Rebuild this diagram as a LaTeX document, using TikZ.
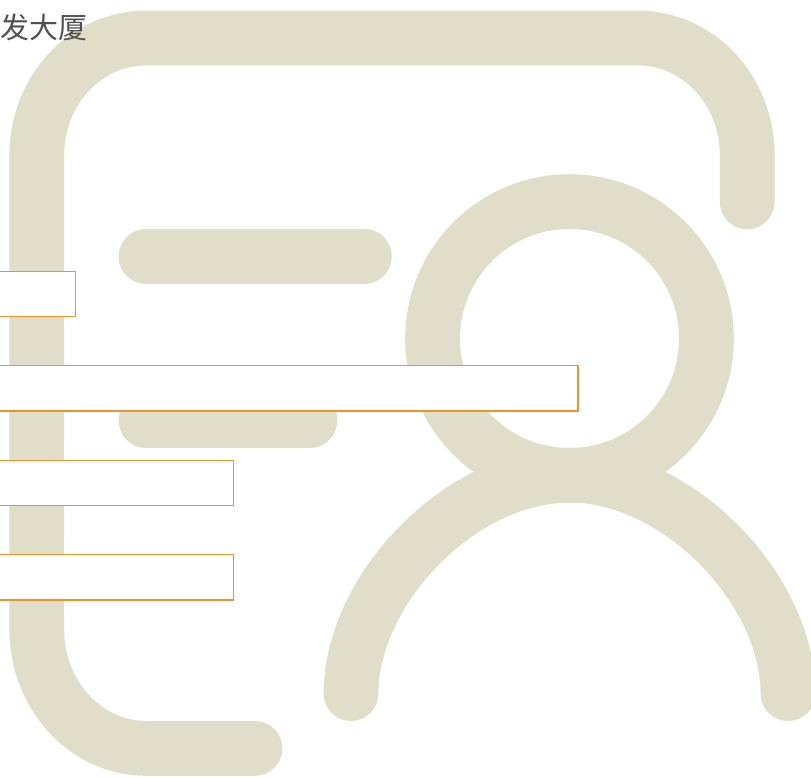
\documentclass[tikz,border=0pt]{standalone}
\usepackage{fontspec}
\newfontfamily\cjk{Noto Sans CJK SC}
\definecolor{khaki}{HTML}{E0DEC9}
\definecolor{edge}{HTML}{F0922A}
\definecolor{ink}{HTML}{505050}
\tikzset{
  icon/.style={draw=khaki,line width=54.8pt,line cap=round,line join=round},
  maskbox/.style={draw=edge,fill=white,line width=1.2pt},
  caption/.style={text=ink,font=\cjk\fontsize{29}{29}\selectfont,inner sep=0pt,anchor=west}
}
\begin{document}
\begin{tikzpicture}[x=1pt,y=-1pt]
\useasboundingbox (0,0) rectangle (811,777);
\begin{scope}
\clip (0,0) rectangle (811,777);
\draw[icon] (747.2,202) -- (747.2,155) .. controls (747.2,90) and (698,38) .. (638,38) -- (146,38)
  .. controls (86,38) and (36.8,90) .. (36.8,155) -- (36.8,630)
  .. controls (36.8,695) and (86,748.4) .. (146,748.4) -- (255,748.4);
\draw[icon] (146,256.4) -- (364.4,256.4);
\draw[icon] (146,420.4) -- (310,420.4);
\draw[icon] (569.5,338.5) circle[radius=136.9];
\draw[icon] (351,693.6) .. controls (351,590) and (460,475.2) .. (569.5,475.2)
  .. controls (679,475.2) and (788,590) .. (788,693.6);
\draw[maskbox] (-2,271.2) rectangle (75.4,316.5);
\draw[maskbox] (-2,365.6) rectangle (578,411);
\draw[maskbox] (-2,460.1) rectangle (233.2,505.5);
\draw[maskbox] (-2,554.6) rectangle (233.2,600);
\end{scope}
\node[caption] (title) at (0,27.5) {发大厦};
\end{tikzpicture}
\end{document}
